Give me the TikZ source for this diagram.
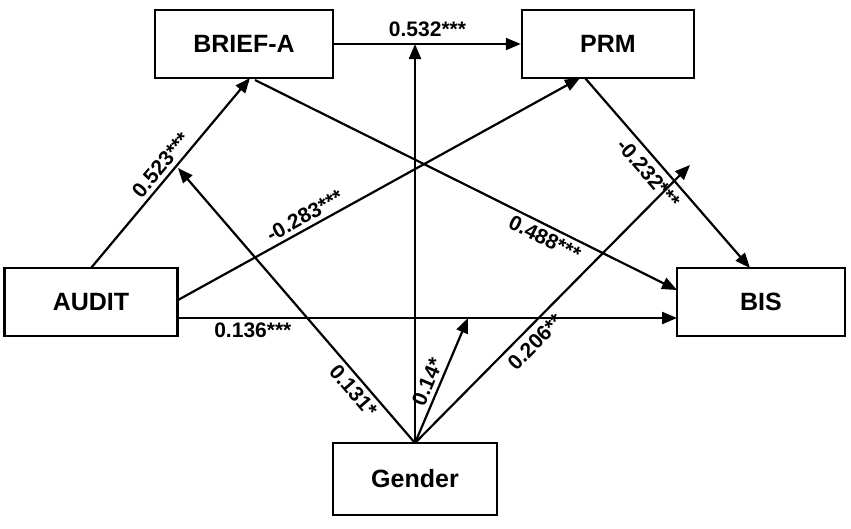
\documentclass[tikz,border=0pt]{standalone}
\usepackage{fontspec}
\setmainfont{Liberation Sans}
\usetikzlibrary{positioning,arrows.meta}
\tikzset{
    var/.style={draw, line width=2.4pt, minimum height=68pt, font=\fontsize{25}{28}\selectfont\bfseries},
    path/.style={-{Triangle[length=15pt,width=12pt]}, line width=2.2pt},
    coef/.style={font=\fontsize{21}{24}\selectfont\bfseries, inner sep=4pt}
}
\begin{document}
\begin{tikzpicture}[x=1pt, y=-1pt]
    \useasboundingbox (0,0) rectangle (851,528);
    \node[var, minimum width=178pt] (brief) at (244,44) {BRIEF-A};
    \node[var, minimum width=172pt] (prm) at (608,44) {PRM};
    \node[var, minimum width=173pt] (audit) at (91,302) {AUDIT};
    \node[var, minimum width=168pt] (bis) at (761,302) {BIS};
    \node[var, minimum width=164pt, minimum height=72pt] (gender) at (415,479) {Gender};
    % ----
    \coordinate (g) at (415,443);
    \coordinate (m1) at (415,44);
    \coordinate (m2) at (178,168);
    \coordinate (m3) at (468,318);
    \coordinate (m4) at (690,165);
    % ----
    \draw[path] (91,268) -- node[coef, sloped, above] {0.523***} (250,78);
    \draw[path] (178,300) -- node[coef, sloped, above, pos=0.33] {-0.283***} (580,78);
    \draw[path] (178,318) -- node[coef, below, pos=0.15] {0.136***} (677,318);
    \draw[path] (brief.east) -- node[coef, above, inner sep=6pt] {0.532***} (prm.west);
    \draw[path] (255,80) -- node[coef, sloped, below, pos=0.7] {0.488***} (677,290);
    \draw[path] (585,78) -- node[coef, sloped, below, pos=0.45, inner sep=6pt] {-0.232***} (750,268);
    % ----
    \draw[path] (g) -- (m1);
    \draw[path] (g) -- node[coef, sloped, below, pos=0.22] {0.131*} (m2);
    \draw[path] (g) -- node[coef, sloped, above, pos=0.45] {0.14*} (m3);
    \draw[path] (g) -- node[coef, sloped, below, pos=0.4, inner sep=6pt] {0.206**} (m4);
\end{tikzpicture}
\end{document}
